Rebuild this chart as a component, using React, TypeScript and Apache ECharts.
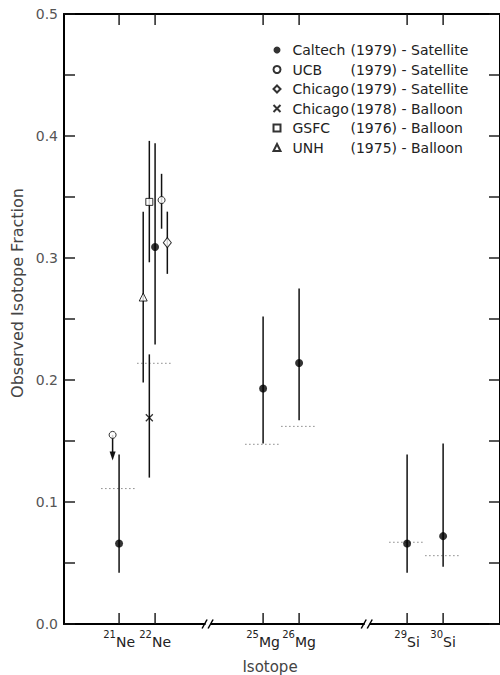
import React, { useEffect, useRef } from "react";
import * as echarts from "echarts";

// ---- Axis definitions ----
const isotopeMass = [21, 22, 25, 26, 29, 30];
const isotopeSup = ["21", "22", "25", "26", "29", "30"];
const isotopeElem = ["Ne", "Ne", "Mg", "Mg", "Si", "Si"];
const yTickValues = [0, 0.05, 0.1, 0.15, 0.2, 0.25, 0.3, 0.35, 0.4, 0.45, 0.5];
const breakMarks = [23.5, 27.92];
const xMin = 19.47;
const xMax = 31.58;
const yMin = 0;
const yMax = 0.5;
const yInterval = 0.05;

// ---- Data: [x, value, low, high] ----
const caltech = [
  [21, 0.066, 0.042, 0.139],
  [22, 0.309, 0.229, 0.394],
  [25, 0.193, 0.148, 0.252],
  [26, 0.214, 0.167, 0.275],
  [29, 0.066, 0.042, 0.139],
  [30, 0.072, 0.047, 0.148],
];
const ucb = [[22.18, 0.3475, 0.324, 0.369]];
const ucbUpperLimit = [[20.82, 0.155, 0.134]]; // [x, value, arrow tip]
const chicago79 = [[22.34, 0.3126, 0.287, 0.338]];
const chicago78 = [[21.84, 0.169, 0.12, 0.221]];
const gsfc = [[21.84, 0.346, 0.2965, 0.396]];
const unh = [[21.67, 0.268, 0.198, 0.338]];
// dotted reference levels
const referenceLevels = [
  [21, 0.111],
  [22, 0.2137],
  [25, 0.1473],
  [26, 0.162],
  [29, 0.067],
  [30, 0.056],
];

const seriesNames = [
  "Caltech (1979) - Satellite",
  "UCB (1979) - Satellite",
  "Chicago (1979) - Satellite",
  "Chicago (1978) - Balloon",
  "GSFC (1976) - Balloon",
  "UNH (1975) - Balloon",
];

const FONT = "DejaVu Sans";

function buildOption() {
  const allBars = [caltech, ucb, chicago79, chicago78, gsfc, unh]
    .flat()
    .map((d) => [d[0], d[2], d[3]]);

  // tick marks: [x, y, side] side 0=left 1=right 2=bottom 3=top
  const tickMarks = [
    ...yTickValues.map((v) => [xMin, v, 0]),
    ...yTickValues.map((v) => [xMax, v, 1]),
    ...isotopeMass.map((v) => [v, yMin, 2]),
    ...isotopeMass.map((v) => [v, yMax, 3]),
  ];

  const openStyle = () => ({ color: "#fff", borderColor: "#000", borderWidth: 1 });
  const axisLineStyle = () => ({ color: "#000", width: 2 });

  return {
    animation: false,
    backgroundColor: "#fff",
    grid: { left: 64, top: 14, width: 442, height: 610 },
    xAxis: [
      {
        type: "value",
        min: xMin,
        max: xMax,
        position: "bottom",
        axisLine: { show: true, onZero: false, lineStyle: axisLineStyle() },
        axisTick: { show: false },
        splitLine: { show: false },
        axisLabel: {
          customValues: isotopeMass,
          margin: 8,
          formatter: (v: number) => {
            const i = isotopeMass.indexOf(Math.round(v));
            return i < 0 ? "" : `{s|${isotopeSup[i]}}{n|${isotopeElem[i]}}`;
          },
          rich: {
            s: { fontSize: 10, fontFamily: FONT, color: "#222", lineHeight: 10, padding: [0, 0, 10, 0] },
            n: { fontSize: 14, fontFamily: FONT, color: "#222", lineHeight: 14, padding: [6, 0, 0, 0] },
          },
        },
      },
      {
        type: "value",
        min: xMin,
        max: xMax,
        position: "top",
        axisLine: { show: true, onZero: false, lineStyle: axisLineStyle() },
        axisTick: { show: false },
        axisLabel: { show: false },
        splitLine: { show: false },
      },
    ],
    yAxis: [
      {
        type: "value",
        min: yMin,
        max: yMax,
        interval: yInterval,
        position: "left",
        axisLine: { show: true, onZero: false, lineStyle: axisLineStyle() },
        axisTick: { show: false },
        splitLine: { show: false },
        axisLabel: {
          margin: 6,
          fontSize: 14,
          fontFamily: FONT,
          color: "#555",
          formatter: (v: number) => {
            const k = Math.round(v * 20);
            return k % 2 === 0 ? (k / 20).toFixed(1) : "";
          },
        },
      },
      {
        type: "value",
        min: yMin,
        max: yMax,
        interval: yInterval,
        position: "right",
        axisLine: { show: true, onZero: false, lineStyle: axisLineStyle() },
        axisTick: { show: false },
        axisLabel: { show: false },
        splitLine: { show: false },
      },
    ],
    legend: {
      orient: "vertical",
      left: 272.5,
      top: 43,
      padding: 0,
      itemWidth: 7,
      itemHeight: 7,
      itemGap: 5.5,
      data: seriesNames,
      formatter: (name: string) => {
        const i = name.indexOf(" (");
        return `{n|${name.slice(0, i)}}{y|${name.slice(i + 1)}}`;
      },
      textStyle: {
        rich: {
          n: { width: 58, fontSize: 14, fontFamily: FONT, color: "#222", lineHeight: 14, padding: [0, 0, 0, 7] },
          y: { fontSize: 14, fontFamily: FONT, color: "#222", lineHeight: 14 },
        },
      },
    },
    graphic: [
      {
        type: "text",
        x: 17,
        y: 293,
        rotation: Math.PI / 2,
        style: { text: "Observed Isotope Fraction", fontSize: 16, fontFamily: FONT, fill: "#444", align: "center", verticalAlign: "middle" },
      },
      {
        type: "text",
        x: 270,
        y: 674,
        style: { text: "Isotope", fontSize: 15, fontFamily: FONT, fill: "#444", align: "center", verticalAlign: "bottom" },
      },
    ],
    series: [
      {
        name: "ticks",
        type: "custom",
        clip: false,
        z: 3,
        silent: true,
        data: tickMarks,
        renderItem: (_p: any, api: any) => {
          const p = api.coord([api.value(0), api.value(1)]);
          const side = api.value(2);
          const L = 11;
          let x2 = p[0];
          let y2 = p[1];
          if (side === 0) x2 = p[0] + L;
          else if (side === 1) x2 = p[0] - L;
          else if (side === 2) y2 = p[1] - L;
          else y2 = p[1] + L;
          return {
            type: "line",
            shape: { x1: p[0], y1: p[1], x2, y2 },
            style: { stroke: "#111", lineWidth: 1.4 },
          };
        },
      },
      {
        name: "reference",
        type: "custom",
        clip: false,
        z: 1,
        data: referenceLevels,
        renderItem: (_p: any, api: any) => {
          const x = api.value(0);
          const y = api.value(1);
          const a = api.coord([x - 0.5, y]);
          const b = api.coord([x + 0.5, y]);
          return {
            type: "line",
            shape: { x1: a[0], y1: a[1], x2: b[0], y2: b[1] },
            style: { stroke: "#888", lineWidth: 1, lineDash: [1.5, 2.5] },
          };
        },
      },
      {
        name: "errorbars",
        type: "custom",
        clip: false,
        z: 2,
        data: allBars,
        renderItem: (_p: any, api: any) => {
          const x = api.value(0);
          const a = api.coord([x, api.value(1)]);
          const b = api.coord([x, api.value(2)]);
          return {
            type: "line",
            shape: { x1: a[0], y1: a[1], x2: b[0], y2: b[1] },
            style: { stroke: "#111", lineWidth: 1.5 },
          };
        },
      },
      {
        name: "upperlimit",
        type: "custom",
        clip: false,
        z: 2,
        data: ucbUpperLimit,
        renderItem: (_p: any, api: any) => {
          const x = api.value(0);
          const a = api.coord([x, api.value(1)]);
          const t = api.coord([x, api.value(2)]);
          return {
            type: "group",
            children: [
              { type: "line", shape: { x1: a[0], y1: a[1], x2: t[0], y2: t[1] - 6 }, style: { stroke: "#111", lineWidth: 1.5 } },
              {
                type: "polygon",
                shape: { points: [[t[0], t[1]], [t[0] - 3, t[1] - 9], [t[0] + 3, t[1] - 9]] },
                style: { fill: "#111" },
              },
            ],
          };
        },
      },
      {
        name: "breaks",
        type: "custom",
        clip: false,
        z: 5,
        data: breakMarks.map((b) => [b, 0]),
        renderItem: (_p: any, api: any) => {
          const c = api.coord([api.value(0), api.value(1)]);
          const cx = c[0];
          const cy = c[1];
          return {
            type: "group",
            children: [
              { type: "rect", shape: { x: cx - 3.5, y: cy - 2, width: 5, height: 4 }, style: { fill: "#fff" } },
              { type: "line", shape: { x1: cx - 7, y1: cy + 4.5, x2: cx - 2, y2: cy - 4.5 }, style: { stroke: "#000", lineWidth: 1.5 } },
              { type: "line", shape: { x1: cx - 1, y1: cy + 4.5, x2: cx + 4, y2: cy - 4.5 }, style: { stroke: "#000", lineWidth: 1.5 } },
            ],
          };
        },
      },
      {
        name: seriesNames[0],
        type: "scatter",
        z: 10,
        symbol: "circle",
        symbolSize: 8,
        itemStyle: { color: "#000" },
        data: caltech.map((d) => [d[0], d[1]]),
      },
      {
        name: seriesNames[1],
        type: "scatter",
        z: 10,
        symbol: "circle",
        symbolSize: 7,
        itemStyle: openStyle(),
        data: [...ucbUpperLimit.map((d) => [d[0], d[1]]), ...ucb.map((d) => [d[0], d[1]])],
      },
      {
        name: seriesNames[2],
        type: "scatter",
        z: 10,
        symbol: "diamond",
        symbolSize: [8, 10],
        itemStyle: openStyle(),
        data: chicago79.map((d) => [d[0], d[1]]),
      },
      {
        name: seriesNames[3],
        type: "scatter",
        z: 10,
        symbol: "path://M0,0L10,10M10,0L0,10",
        symbolSize: 7,
        itemStyle: { color: "transparent", borderColor: "#000", borderWidth: 1.3 },
        data: chicago78.map((d) => [d[0], d[1]]),
      },
      {
        name: seriesNames[4],
        type: "scatter",
        z: 10,
        symbol: "rect",
        symbolSize: 7,
        itemStyle: openStyle(),
        data: gsfc.map((d) => [d[0], d[1]]),
      },
      {
        name: seriesNames[5],
        type: "scatter",
        z: 10,
        symbol: "triangle",
        symbolSize: 8,
        itemStyle: openStyle(),
        data: unh.map((d) => [d[0], d[1]]),
      },
    ],
  };
}

export default function App() {
  const ref = useRef<HTMLDivElement>(null);
  useEffect(() => {
    document.body.style.margin = "0";
    const chart = echarts.init(ref.current as HTMLDivElement, null, { renderer: "svg" });
    chart.setOption(buildOption() as any);
    return () => chart.dispose();
  }, []);
  return (
    <div
      ref={ref}
      style={{ position: "absolute", left: 0, top: 0, width: 500, height: 675, background: "#fff" }}
    />
  );
}
